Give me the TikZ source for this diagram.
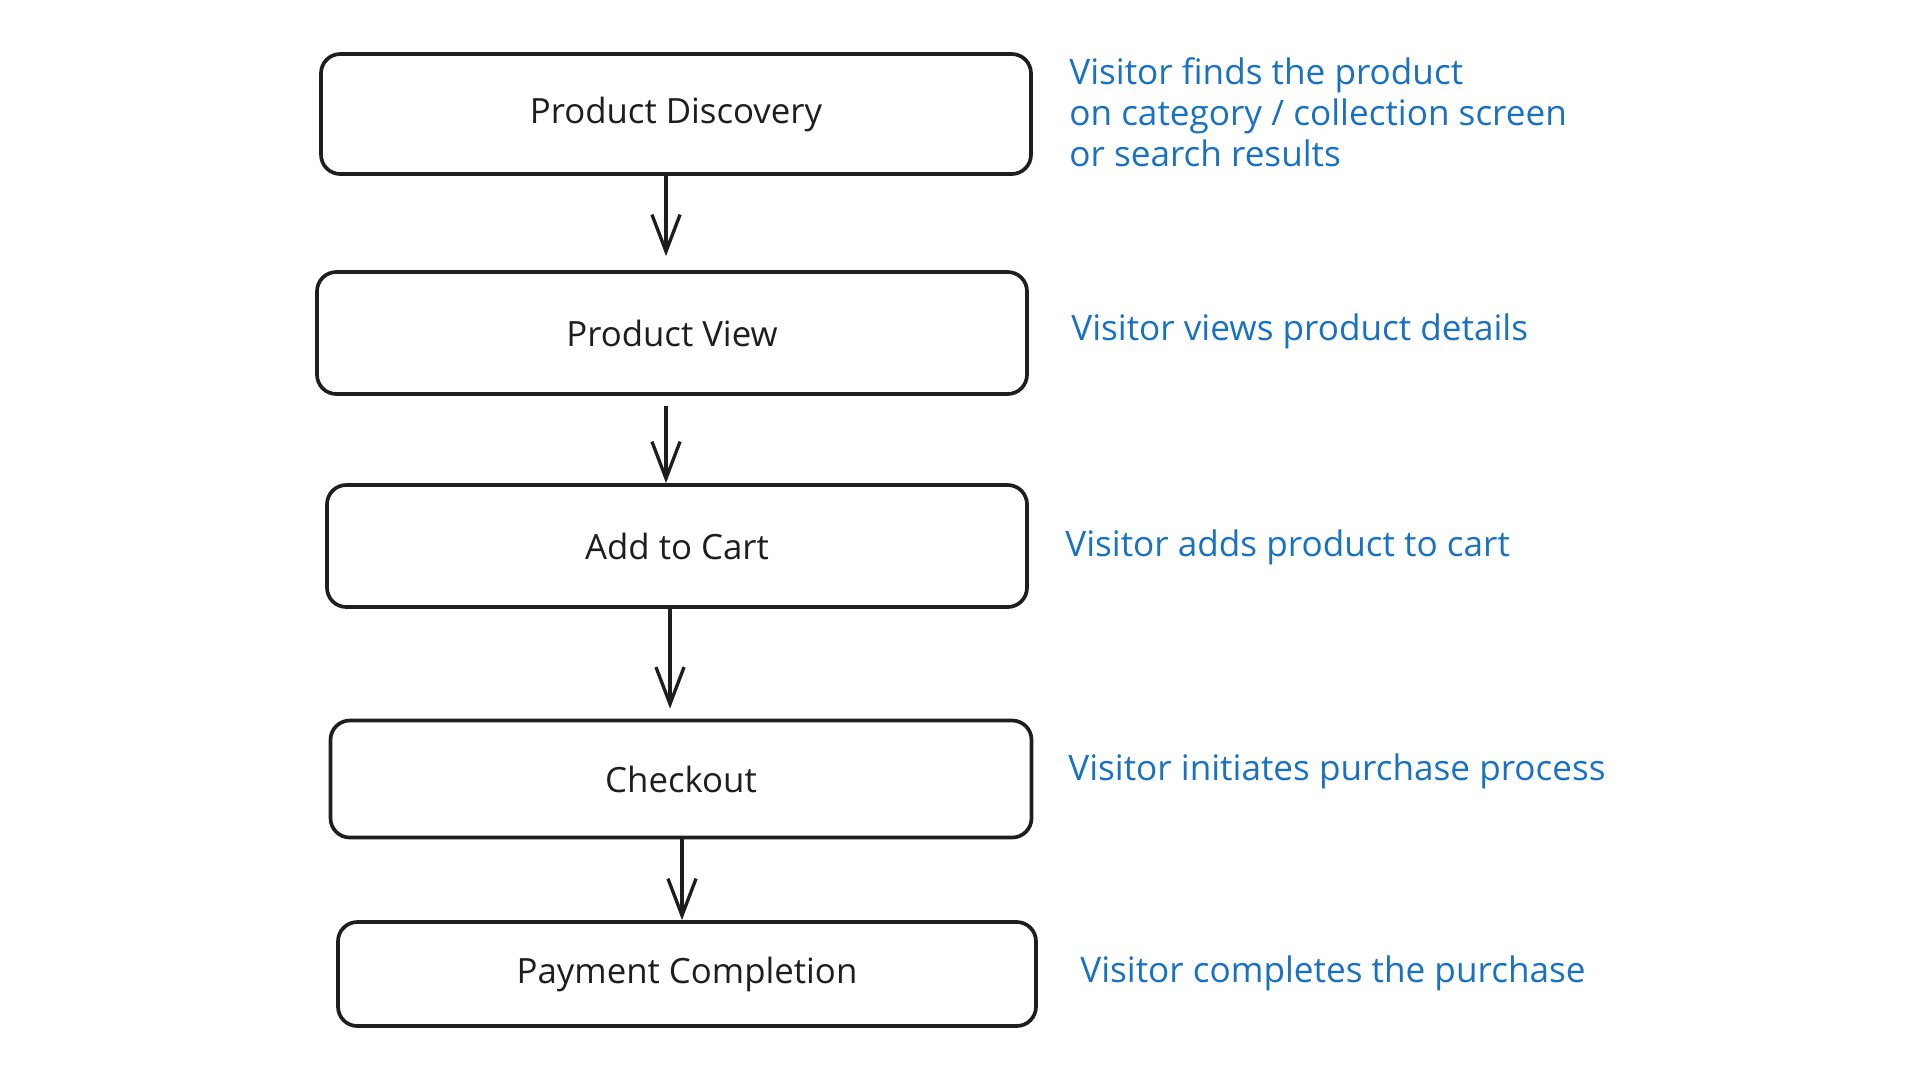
\documentclass[tikz,border=0pt]{standalone}
\usepackage{fontspec}
\setmainfont{Open Sans}
\usetikzlibrary{arrows.meta}
\definecolor{inkblack}{HTML}{1E1E1E}
\definecolor{noteblue}{HTML}{1971C2}
\tikzset{
  stepbox/.style={draw=inkblack, line width=2.1pt, rounded corners=11pt, fill=white,
    text=inkblack, font=\fontsize{19.8}{24}\selectfont, inner sep=0pt},
  note/.style={text=noteblue, font=\fontsize{20}{23.4}\selectfont, anchor=west, align=left, inner sep=0pt},
  arr/.style={draw=inkblack, line width=1.9pt, -{Straight Barb[length=21pt,width=16pt,line width=1.9pt]}}
}
\begin{document}
\begin{tikzpicture}[x=0.02cm,y=-0.02cm]
\useasboundingbox (0,0) rectangle (1920,1080);
\node[stepbox, minimum width=710*0.02cm, minimum height=120*0.02cm] (b1) at (676,114) {Product Discovery};
\node[stepbox, minimum width=710*0.02cm, minimum height=122*0.02cm] (b2) at (672,333) {Product View};
\node[stepbox, minimum width=700*0.02cm, minimum height=122*0.02cm] (b3) at (677,546) {Add to Cart};
\node[stepbox, minimum width=701*0.02cm, minimum height=117*0.02cm] (b4) at (681,779) {Checkout};
\node[stepbox, minimum width=698*0.02cm, minimum height=104*0.02cm] (b5) at (687,974) {Payment Completion};

\coordinate (a1) at (666,0);
\coordinate (a2) at (666,0);
\coordinate (a3) at (670,0);
\coordinate (a4) at (682,0);
\draw[arr, shorten >=14*0.02cm] (b1.south -| a1) -- (b2.north -| a1);
\draw[arr, shorten <=10*0.02cm] (b2.south -| a2) -- (b3.north -| a2);
\draw[arr, shorten >=10*0.02cm] (b3.south -| a3) -- (b4.north -| a3);
\draw[arr] (b4.south -| a4) -- (b5.north -| a4);

\node[note] (n1) at (1069,112) {Visitor finds the product\\on category / collection screen\\or search results};
\node[note] (n2) at (1071,331) {Visitor views product details};
\node[note] (n3) at (1065,547) {Visitor adds product to cart};
\node[note] (n4) at (1068,771) {Visitor initiates purchase process};
\node[note] (n5) at (1080,973) {Visitor completes the purchase};
\end{tikzpicture}
\end{document}
